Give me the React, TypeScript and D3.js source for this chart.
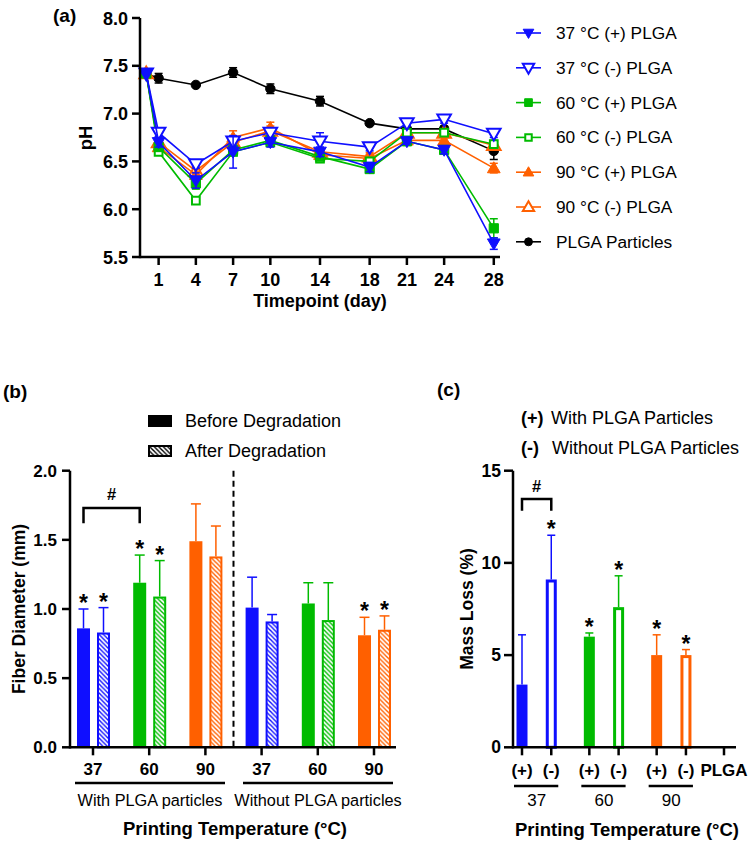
import React from 'react';
import * as d3 from 'd3';

const FONT = "Arial, 'Liberation Sans', Helvetica, sans-serif";
const BLUE = '#0f0fff';
const GREEN = '#00bb00';
const ORANGE = '#ff6000';

// (a) pH over time
const days = [0, 1, 4, 7, 10, 14, 18, 21, 24, 28];
const dayTicks = [1, 4, 7, 10, 14, 18, 21, 24, 28];
const phTicks = [5.5, 6.0, 6.5, 7.0, 7.5, 8.0];

const ph37Plus = [7.42, 6.7, 6.3, 6.6, 6.7, 6.6, 6.44, 6.71, 6.62, 5.64];
const ph37PlusSd = [0.02, 0.05, 0.08, 0.17, 0.05, 0.05, 0.05, 0.03, 0.04, 0.06];
const ph37Minus = [7.42, 6.8, 6.47, 6.71, 6.8, 6.71, 6.65, 6.9, 6.94, 6.79];
const ph37MinusSd = [0.02, 0.04, 0.04, 0.05, 0.05, 0.09, 0.04, 0.03, 0.04, 0.04];
const ph60Plus = [7.42, 6.65, 6.27, 6.62, 6.72, 6.55, 6.42, 6.71, 6.62, 5.8];
const ph60PlusSd = [0.02, 0.04, 0.06, 0.05, 0.04, 0.04, 0.04, 0.03, 0.03, 0.1];
const ph60Minus = [7.42, 6.6, 6.09, 6.6, 6.7, 6.53, 6.5, 6.8, 6.8, 6.68];
const ph60MinusSd = [0.02, 0.03, 0.03, 0.04, 0.04, 0.04, 0.04, 0.03, 0.03, 0.04];
const ph90Plus = [7.42, 6.65, 6.36, 6.75, 6.85, 6.57, 6.53, 6.72, 6.72, 6.43];
const ph90PlusSd = [0.02, 0.04, 0.06, 0.07, 0.06, 0.04, 0.04, 0.03, 0.03, 0.05];
const ph90Minus = [7.42, 6.7, 6.4, 6.7, 6.82, 6.6, 6.55, 6.8, 6.8, 6.67];
const ph90MinusSd = [0.02, 0.04, 0.05, 0.05, 0.05, 0.04, 0.04, 0.03, 0.03, 0.04];
const phPlga = [7.42, 7.37, 7.3, 7.43, 7.26, 7.13, 6.9, 6.84, 6.84, 6.61];
const phPlgaSd = [0.0, 0.05, 0.02, 0.05, 0.05, 0.05, 0.02, 0.02, 0.03, 0.09];

const phSeries = [
  { name: '37 °C (+) PLGA', color: BLUE, marker: 'down', filled: true, values: ph37Plus, sd: ph37PlusSd },
  { name: '37 °C (-) PLGA', color: BLUE, marker: 'down', filled: false, values: ph37Minus, sd: ph37MinusSd },
  { name: '60 °C (+) PLGA', color: GREEN, marker: 'square', filled: true, values: ph60Plus, sd: ph60PlusSd },
  { name: '60 °C (-) PLGA', color: GREEN, marker: 'square', filled: false, values: ph60Minus, sd: ph60MinusSd },
  { name: '90 °C (+) PLGA', color: ORANGE, marker: 'up', filled: true, values: ph90Plus, sd: ph90PlusSd },
  { name: '90 °C (-) PLGA', color: ORANGE, marker: 'up', filled: false, values: ph90Minus, sd: ph90MinusSd },
  { name: 'PLGA Particles', color: '#000', marker: 'circle', filled: true, values: phPlga, sd: phPlgaSd },
];

// (b) fiber diameter
const diamTemps = ['37', '60', '90', '37', '60', '90'];
const diamBefore = [0.86, 1.19, 1.49, 1.01, 1.04, 0.81];
const diamBeforeSd = [0.14, 0.2, 0.27, 0.22, 0.15, 0.13];
const diamAfter = [0.83, 1.09, 1.38, 0.91, 0.92, 0.85];
const diamAfterSd = [0.18, 0.26, 0.22, 0.05, 0.27, 0.1];
const diamColors = [BLUE, GREEN, ORANGE, BLUE, GREEN, ORANGE];
const diamStar = [true, true, false, false, false, true];
const diamTicks = [0, 0.5, 1.0, 1.5, 2.0];

// (c) mass loss
const massCats = ['(+)', '(-)', '(+)', '(-)', '(+)', '(-)', 'PLGA'];
const massSlots = [0, 1, 2.3, 3.3, 4.6, 5.6, 6.9];
const massLoss = [3.4, 9.1, 6.0, 7.6, 5.0, 5.0, 0];
const massLossSd = [2.7, 2.4, 0.2, 1.7, 1.1, 0.3, 0];
const massColors = [BLUE, BLUE, GREEN, GREEN, ORANGE, ORANGE, '#000'];
const massFilled = [true, false, true, false, true, false, true];
const massStar = [false, true, true, true, true, true, false];
const massTemps = ['37', '60', '90'];
const massTicks = [0, 5, 10, 15];

const symbolPath = (marker: string, size: number) => {
  const type =
    marker === 'circle' ? d3.symbolCircle : marker === 'square' ? d3.symbolSquare : d3.symbolTriangle;
  return d3.symbol(type, size)() as string;
};

const Marker = ({ marker, filled, color, x, y, scale = 1 }: any) => {
  const base = marker === 'circle' ? 70 : marker === 'square' ? (filled ? 85 : 60) : filled ? 70 : 80;
  const rot = marker === 'down' ? 180 : 0;
  const dy = marker === 'down' ? -1 : marker === 'up' ? 1 : 0;
  return (
    <path
      d={symbolPath(marker, base * scale)}
      transform={`translate(${x},${y + dy * scale}) rotate(${rot})`}
      fill={filled ? color : '#fff'}
      stroke={color}
      strokeWidth={filled ? 1 : 2}
    />
  );
};

const PanelA = () => {
  const x = d3.scaleLinear().domain([-0.5, 28.5]).range([140, 500]);
  const y = d3.scaleLinear().domain([5.5, 8.0]).range([257, 18]);
  const line = d3.line<number>().x((_, i) => x(days[i])).y((d) => y(d));
  const drawOrder = [...phSeries].reverse();
  return (
    <g>
      <text x={53} y={22} fontSize={19} fontWeight="bold">(a)</text>
      {drawOrder.map((s) => (
        <g key={s.name}>
          <path d={line(s.values) as string} fill="none" stroke={s.color} strokeWidth={1.6} />
          {s.values.map((v, i) =>
            s.sd[i] > 0.025 ? (
              <g key={i} stroke={s.color} strokeWidth={1.5}>
                <line x1={x(days[i])} x2={x(days[i])} y1={y(v - s.sd[i])} y2={y(v + s.sd[i])} />
                <line x1={x(days[i]) - 4} x2={x(days[i]) + 4} y1={y(v - s.sd[i])} y2={y(v - s.sd[i])} />
                <line x1={x(days[i]) - 4} x2={x(days[i]) + 4} y1={y(v + s.sd[i])} y2={y(v + s.sd[i])} />
              </g>
            ) : null
          )}
          {s.values.map((v, i) => (
            <Marker key={'m' + i} marker={s.marker} filled={s.filled} color={s.color} x={x(days[i])} y={y(v)} />
          ))}
        </g>
      ))}
      {/* axes */}
      <line x1={140} x2={140} y1={y(8.0)} y2={y(5.5) + 1.2} stroke="#000" strokeWidth={2.5} />
      <line x1={140} x2={500} y1={257} y2={257} stroke="#000" strokeWidth={2.5} />
      {phTicks.map((t) => (
        <g key={t}>
          <line x1={132} x2={140} y1={y(t)} y2={y(t)} stroke="#000" strokeWidth={2.5} />
          <text x={128} y={y(t) + 6.5} textAnchor="end" fontSize={18} fontWeight="bold">{t.toFixed(1)}</text>
        </g>
      ))}
      {dayTicks.map((t) => (
        <g key={t}>
          <line x1={x(t)} x2={x(t)} y1={257} y2={265} stroke="#000" strokeWidth={2.5} />
          <text x={x(t)} y={286} textAnchor="middle" fontSize={18} fontWeight="bold">{t}</text>
        </g>
      ))}
      <text x={320} y={307} textAnchor="middle" fontSize={18} fontWeight="bold">Timepoint (day)</text>
      <text transform="translate(92,138) rotate(-90)" textAnchor="middle" fontSize={18.5} fontWeight="bold">pH</text>
      {/* legend */}
      {phSeries.map((s, i) => {
        const ly = 33 + i * 34.8;
        return (
          <g key={s.name}>
            <line x1={516} x2={541} y1={ly} y2={ly} stroke={s.color} strokeWidth={1.6} />
            <Marker marker={s.marker} filled={s.filled} color={s.color} x={528.5} y={ly} scale={0.7} />
            <text x={556} y={ly + 6} fontSize={17.3}>{s.name}</text>
          </g>
        );
      })}
    </g>
  );
};

const PanelB = () => {
  const y = d3.scaleLinear().domain([0, 2]).range([747.3, 470.7]);
  const x = d3.scaleLinear().domain([0, 5]).range([93, 374]);
  const bw = 13;
  const bars = diamTemps.flatMap((t, i) => [
    { i, kind: 'before', cx: x(i) - 9.5, v: diamBefore[i], sd: diamBeforeSd[i] },
    { i, kind: 'after', cx: x(i) + 10.5, v: diamAfter[i], sd: diamAfterSd[i] },
  ]);
  return (
    <g>
      <text x={3} y={398} fontSize={19} fontWeight="bold">(b)</text>
      {/* legend */}
      <rect x={148} y={415} width={24} height={12} fill="#000" />
      <text x={185} y={427} fontSize={18}>Before Degradation</text>
      <rect x={149} y={446} width={22} height={10} fill="url(#hatch-black)" stroke="#000" strokeWidth={2} />
      <text x={185} y={457} fontSize={18}>After Degradation</text>
      {bars.map((b, k) => {
        const c = diamColors[b.i];
        const top = y(b.v + b.sd);
        return (
          <g key={k}>
            <line x1={b.cx} x2={b.cx} y1={y(b.v)} y2={top} stroke={c} strokeWidth={1.5} />
            <line x1={b.cx - 5} x2={b.cx + 5} y1={top} y2={top} stroke={c} strokeWidth={1.5} />
            {b.kind === 'before' ? (
              <rect x={b.cx - bw / 2} y={y(b.v)} width={bw} height={y(0) - y(b.v)} fill={c} />
            ) : (
              <rect
                x={b.cx - bw / 2 + 1}
                y={y(b.v) + 1}
                width={bw - 2}
                height={y(0) - y(b.v) - 1}
                fill={`url(#hatch-${b.i % 3})`}
                stroke={c}
                strokeWidth={2}
              />
            )}
            {diamStar[b.i] && (
              <text x={b.cx} y={top + 2} textAnchor="middle" fontSize={23} fontWeight="bold">*</text>
            )}
          </g>
        );
      })}
      {/* bracket */}
      <path
        d={`M${x(0) - 9.5},${y(1.62)} V${y(1.73)} H${x(1) - 9.5} V${y(1.62)}`}
        fill="none"
        stroke="#000"
        strokeWidth={2.5}
      />
      <text x={(x(0) + x(1)) / 2 - 9.5} y={y(1.73) - 8} textAnchor="middle" fontSize={16.5} fontWeight="bold">#</text>
      <line x1={x(2.5)} x2={x(2.5)} y1={y(2)} y2={y(0)} stroke="#000" strokeWidth={2} strokeDasharray="6,4" />
      {/* axes */}
      <line x1={70} x2={70} y1={y(2)} y2={y(0) + 1.2} stroke="#000" strokeWidth={2.5} />
      <line x1={70} x2={396} y1={y(0)} y2={y(0)} stroke="#000" strokeWidth={2.5} />
      {diamTicks.map((t) => (
        <g key={t}>
          <line x1={62} x2={70} y1={y(t)} y2={y(t)} stroke="#000" strokeWidth={2.5} />
          <text x={57} y={y(t) + 6} textAnchor="end" fontSize={17} fontWeight="bold">{t.toFixed(1)}</text>
        </g>
      ))}
      {diamTemps.map((t, i) => (
        <g key={i}>
          <line x1={x(i)} x2={x(i)} y1={y(0)} y2={y(0) + 8} stroke="#000" strokeWidth={2.5} />
          <text x={x(i)} y={775} textAnchor="middle" fontSize={17} fontWeight="bold">{t}</text>
        </g>
      ))}
      <line x1={75} x2={225} y1={783} y2={783} stroke="#000" strokeWidth={2.5} />
      <line x1={243} x2={393} y1={783} y2={783} stroke="#000" strokeWidth={2.5} />
      <text x={150} y={806} textAnchor="middle" fontSize={16.3}>With PLGA particles</text>
      <text x={318} y={806} textAnchor="middle" fontSize={16.3}>Without PLGA particles</text>
      <text x={235} y={835} textAnchor="middle" fontSize={18.5} fontWeight="bold">Printing Temperature (°C)</text>
      <text transform="translate(25,609) rotate(-90)" textAnchor="middle" fontSize={17.5} fontWeight="bold">
        Fiber Diameter (mm)
      </text>
    </g>
  );
};

const PanelC = () => {
  const y = d3.scaleLinear().domain([0, 15]).range([747.3, 470.7]);
  const x = d3.scaleLinear().domain([0, 6.9]).range([522, 724]);
  const bw = 11;
  return (
    <g>
      <text x={437} y={396} fontSize={19} fontWeight="bold">(c)</text>
      <text x={521} y={424} fontSize={18}>
        <tspan fontWeight="bold">(+)</tspan>
        <tspan x={551}>With PLGA Particles</tspan>
      </text>
      <text x={521} y={454} fontSize={18}>
        <tspan fontWeight="bold">(-)</tspan>
        <tspan x={552}>Without PLGA Particles</tspan>
      </text>
      {massLoss.map((v, i) => {
        if (v <= 0) return null;
        const cx = x(massSlots[i]);
        const c = massColors[i];
        const top = y(v + massLossSd[i]);
        return (
          <g key={i}>
            <line x1={cx} x2={cx} y1={y(v)} y2={top} stroke={c} strokeWidth={1.5} />
            <line x1={cx - 4} x2={cx + 4} y1={top} y2={top} stroke={c} strokeWidth={1.5} />
            {massFilled[i] ? (
              <rect x={cx - bw / 2} y={y(v)} width={bw} height={y(0) - y(v)} fill={c} />
            ) : (
              <rect
                x={cx - bw / 2 + 1.5}
                y={y(v) + 1.5}
                width={bw - 3}
                height={y(0) - y(v) - 1.5}
                fill="#fff"
                stroke={c}
                strokeWidth={3}
              />
            )}
            {massStar[i] && (
              <text x={cx} y={top + 2} textAnchor="middle" fontSize={23} fontWeight="bold">*</text>
            )}
          </g>
        );
      })}
      <path
        d={`M${x(0)},${y(12.83)} V${y(13.47)} H${x(1)} V${y(12.83)}`}
        fill="none"
        stroke="#000"
        strokeWidth={2.5}
      />
      <text x={(x(0) + x(1)) / 2} y={y(13.47) - 7} textAnchor="middle" fontSize={16.5} fontWeight="bold">#</text>
      {/* axes */}
      <line x1={513} x2={513} y1={y(15)} y2={y(0) + 1.2} stroke="#000" strokeWidth={2.5} />
      <line x1={513} x2={736} y1={y(0)} y2={y(0)} stroke="#000" strokeWidth={2.5} />
      {massTicks.map((t) => (
        <g key={t}>
          <line x1={504} x2={513} y1={y(t)} y2={y(t)} stroke="#000" strokeWidth={2.5} />
          <text x={501} y={y(t) + 6} textAnchor="end" fontSize={17.5} fontWeight="bold">{t}</text>
        </g>
      ))}
      {massCats.map((t, i) => (
        <g key={i}>
          <line x1={x(massSlots[i])} x2={x(massSlots[i])} y1={y(0)} y2={y(0) + 8} stroke="#000" strokeWidth={2.5} />
          <text x={x(massSlots[i])} y={776} textAnchor="middle" fontSize={17} fontWeight="bold">{t}</text>
        </g>
      ))}
      {massTemps.map((t, g) => {
        const a = x(massSlots[g * 2]);
        const b = x(massSlots[g * 2 + 1]);
        return (
          <g key={t}>
            <line x1={a - 8} x2={b + 7} y1={786} y2={786} stroke="#000" strokeWidth={2.5} />
            <text x={(a + b) / 2} y={806} textAnchor="middle" fontSize={17}>{t}</text>
          </g>
        );
      })}
      <text x={627} y={836} textAnchor="middle" fontSize={18.5} fontWeight="bold">Printing Temperature (°C)</text>
      <text transform="translate(473,609) rotate(-90)" textAnchor="middle" fontSize={17.5} fontWeight="bold">
        Mass Loss (%)
      </text>
    </g>
  );
};

const hatchColors = [BLUE, GREEN, ORANGE];

export default function App() {
  return (
    <svg
      width={749}
      height={844}
      style={{ position: 'absolute', left: 0, top: 0, background: '#fff' }}
      fontFamily={FONT}
    >
      <defs>
        {hatchColors.map((c, i) => (
          <pattern key={i} id={`hatch-${i}`} width={4.5} height={4.5} patternUnits="userSpaceOnUse">
            <rect width={4.5} height={4.5} fill="#fff" />
            <path d="M-1,-1 L5.5,5.5 M-1,3.5 L1,5.5 M3.5,-1 L5.5,1" stroke={c} strokeWidth={1.4} />
          </pattern>
        ))}
        <pattern id="hatch-black" width={4.5} height={4.5} patternUnits="userSpaceOnUse">
          <rect width={4.5} height={4.5} fill="#fff" />
          <path d="M-1,-1 L5.5,5.5 M-1,3.5 L1,5.5 M3.5,-1 L5.5,1" stroke="#000" strokeWidth={1.4} />
        </pattern>
      </defs>
      <rect width={749} height={844} fill="#fff" />
      <PanelA />
      <PanelB />
      <PanelC />
    </svg>
  );
}
